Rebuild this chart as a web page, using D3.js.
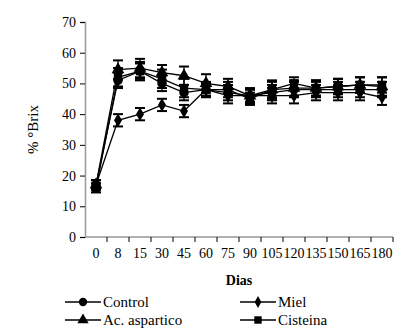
<!DOCTYPE html>
<html>
<head>
<meta charset="utf-8">
<script src="https://cdn.jsdelivr.net/npm/d3@7"></script>
<style>
  body { margin: 0; background: #fff; }
</style>
</head>
<body>
<div id="chart"></div>
<script>
// values
const days = ['0', '8', '15', '30', '45', '60', '75', '90', '105', '120', '135', '150', '165', '180'];
const control  = [17, 51, 54, 50, 47, 48, 47, 46, 47, 48, 48, 48, 48, 48];
const miel     = [17, 38, 40, 43, 41, 48, 46, 46, 46, 46, 47, 47, 47, 45.5];
const acAsp    = [17, 54.5, 55, 53.5, 52.5, 50, 49, 46, 48, 48.5, 48.5, 49, 49.5, 49];
const cisteina = [16, 52, 54, 51.5, 48.5, 48, 48, 45, 48, 50, 48.5, 49, 49.5, 49.5];
const errControl  = [1.5, 2.5, 2.5, 2.5, 2.5, 2, 2.5, 2, 2.5, 2.5, 2.5, 2.5, 2.5, 2.5];
const errMiel     = [1.5, 2, 2, 2, 2, 2, 2.5, 2, 2.5, 2.5, 2.5, 2.5, 2.5, 2.5];
const errAcAsp    = [1.5, 3, 3, 2.5, 3, 3, 2.5, 2.5, 3, 2.5, 2.5, 2.5, 2.5, 3];
const errCisteina = [1.5, 3, 3, 3, 3, 2.5, 2.5, 2, 2.5, 2, 2.5, 2.5, 2.5, 2.5];
const yTicks = [0, 10, 20, 30, 40, 50, 60, 70];

const series = [
  { name: 'Control', values: control, err: errControl, symbol: d3.symbolCircle },
  { name: 'Miel', values: miel, err: errMiel, symbol: d3.symbolDiamond },
  { name: 'Ac. aspartico', values: acAsp, err: errAcAsp, symbol: d3.symbolTriangle },
  { name: 'Cisteina', values: cisteina, err: errCisteina, symbol: d3.symbolSquare }
];

const FONT = '"Liberation Serif", "Times New Roman", Times, serif';
const W = 403, H = 329;
const M = { top: 22, right: 10, bottom: 92, left: 85 };

const svg = d3.select('#chart').append('svg')
  .attr('width', W).attr('height', H);

const x = d3.scaleBand().domain(days).range([M.left, W - M.right]);
const y = d3.scaleLinear().domain([0, 70]).range([H - M.bottom, M.top]);

// y axis
svg.append('g')
  .attr('transform', `translate(${M.left},0)`)
  .call(d3.axisLeft(y).tickValues(yTicks).tickSize(5).tickPadding(4))
  .attr('font-family', FONT)
  .call(g => g.select('.domain').attr('stroke', '#999').attr('stroke-width', 1.5))
  .call(g => g.selectAll('.tick line').attr('stroke', '#000'))
  .call(g => g.selectAll('text').style('font-family', FONT).style('font-size', '14px').attr('fill', '#000'));

// x axis, ticks at category boundaries
const xAxis = svg.append('g')
  .attr('transform', `translate(0,${H - M.bottom})`);
xAxis.append('line')
  .attr('x1', M.left).attr('x2', W - M.right)
  .attr('stroke', '#999').attr('stroke-width', 1.5);
xAxis.selectAll('.xt')
  .data(days)
  .join('line')
  .attr('x1', d => x(d) + x.bandwidth())
  .attr('x2', d => x(d) + x.bandwidth())
  .attr('y1', 0).attr('y2', 5)
  .attr('stroke', '#000');
xAxis.selectAll('.xl')
  .data(days)
  .join('text')
  .attr('x', d => x(d) + x.bandwidth() / 2)
  .attr('y', 21)
  .attr('text-anchor', 'middle')
  .style('font-family', FONT)
  .style('font-size', '14px')
  .text(d => d);

svg.append('text')
  .attr('x', (M.left + W - M.right) / 2)
  .attr('y', 285)
  .attr('text-anchor', 'middle')
  .style('font-family', FONT)
  .style('font-size', '14px')
  .style('font-weight', '700')
  .text('Dias');

svg.append('text')
  .attr('transform', `translate(38,${(M.top + H - M.bottom) / 2}) rotate(-90)`)
  .attr('text-anchor', 'middle')
  .style('font-family', FONT)
  .style('font-size', '15px')
  .text('% °Brix');

const cx = i => x(days[i]) + x.bandwidth() / 2;
const line = d3.line().x((d, i) => cx(i)).y(d => y(d));

const plot = svg.append('g');
series.forEach(s => {
  plot.append('path')
    .attr('d', line(s.values))
    .attr('fill', 'none')
    .attr('stroke', '#000')
    .attr('stroke-width', 1.3);
});

series.forEach(s => {
  const g = plot.append('g');
  s.values.forEach((v, i) => {
    const lo = y(v - s.err[i]), hi = y(v + s.err[i]);
    g.append('line').attr('x1', cx(i)).attr('x2', cx(i)).attr('y1', lo).attr('y2', hi)
      .attr('stroke', '#000').attr('stroke-width', 1.3);
    [lo, hi].forEach(yy => g.append('line')
      .attr('x1', cx(i) - 5).attr('x2', cx(i) + 5).attr('y1', yy).attr('y2', yy)
      .attr('stroke', '#000').attr('stroke-width', 2));
  });
  g.selectAll('path')
    .data(s.values)
    .join('path')
    .attr('transform', (v, i) => `translate(${cx(i)},${y(v)})`)
    .attr('d', d3.symbol().type(s.symbol).size(s.symbol === d3.symbolDiamond ? 55 : 70))
    .attr('fill', '#000');
});

// legend
const legend = svg.append('g');
series.forEach((s, i) => {
  const col = i % 2, row = Math.floor(i / 2);
  const lx = col === 0 ? 65 : 240;
  const ly = 302 + row * 18;
  const g = legend.append('g').attr('transform', `translate(${lx},${ly})`);
  g.append('line').attr('x1', 0).attr('x2', 36).attr('stroke', '#000').attr('stroke-width', 1.3);
  g.append('path')
    .attr('transform', 'translate(18,0)')
    .attr('d', d3.symbol().type(s.symbol).size(s.symbol === d3.symbolDiamond ? 40 : 55))
    .attr('fill', '#000');
  g.append('text').attr('x', 38).attr('y', 5)
    .style('font-family', FONT)
    .style('font-size', '15px')
    .text(s.name);
});
</script>
</body>
</html>
